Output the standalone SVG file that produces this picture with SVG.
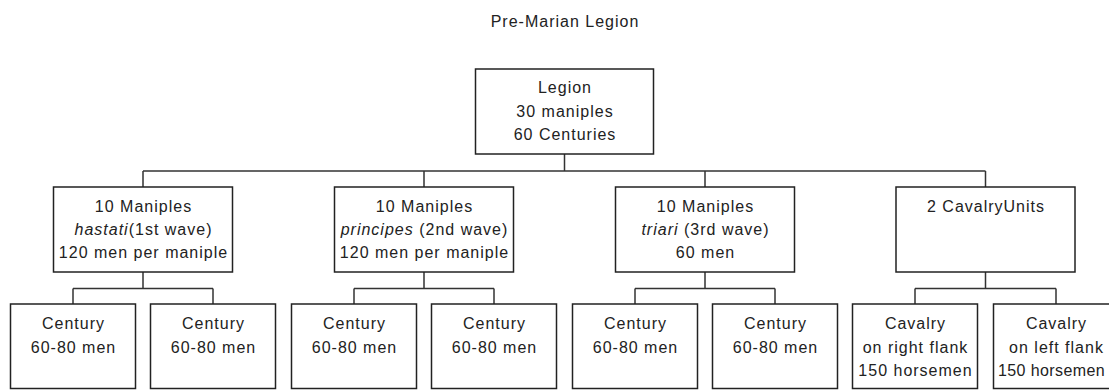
<svg xmlns="http://www.w3.org/2000/svg" width="1109" height="390" viewBox="0 0 1109 390">
<style>
  .box { fill: #ffffff; stroke: #222222; stroke-width: 1.5; }
  .conn { fill: none; stroke: #333333; stroke-width: 1.5; }
  text { font-family: "Liberation Sans", Arial, sans-serif; font-size: 16px; letter-spacing: 1px; fill: #222222; text-anchor: middle; }
  .it { font-style: italic; }
  .tight { letter-spacing: 0.4px; }
</style>
<rect width="1109" height="390" fill="#ffffff"/>
<text id="title" x="565" y="27">Pre-Marian Legion</text>

<g id="connectors">
  <path class="conn" d="M564.5 154 V171 M143 171 H985.5 M143 171 V187 M424 171 V187 M705 171 V187 M985.5 171 V187"/>
  <path class="conn" d="M143 272 V288.5 M73 288.5 H213 M73 288.5 V304 M213 288.5 V304"/>
  <path class="conn" d="M424 272 V288.5 M354 288.5 H494 M354 288.5 V304 M494 288.5 V304"/>
  <path class="conn" d="M705 272 V288.5 M635 288.5 H775 M635 288.5 V304 M775 288.5 V304"/>
  <path class="conn" d="M985.5 272 V288.5 M915 288.5 H1056 M915 288.5 V304 M1056 288.5 V304"/>
</g>

<g id="legion">
  <rect class="box" x="475.5" y="69" width="178" height="85"/>
  <text x="565" y="93">Legion</text>
  <text x="565" y="116.5">30 maniples</text>
  <text x="565" y="140">60 Centuries</text>
</g>

<g id="hastati">
  <rect class="box" x="53.5" y="187" width="179" height="85"/>
  <text x="143.5" y="212">10 Maniples</text>
  <text x="143.5" y="235"><tspan class="it">hastati</tspan>(1st wave)</text>
  <text x="143.5" y="258">120 men per maniple</text>
</g>

<g id="principes">
  <rect class="box" x="334.5" y="187" width="179" height="85"/>
  <text x="424.5" y="212">10 Maniples</text>
  <text x="424.5" y="235"><tspan class="it">principes</tspan> (2nd wave)</text>
  <text x="424.5" y="258">120 men per maniple</text>
</g>

<g id="triari">
  <rect class="box" x="615.5" y="187" width="179" height="85"/>
  <text x="705.5" y="212">10 Maniples</text>
  <text x="705.5" y="235"><tspan class="it">triari</tspan> (3rd wave)</text>
  <text x="705.5" y="258">60 men</text>
</g>

<g id="cavalry">
  <rect class="box" x="896" y="187" width="179" height="85"/>
  <text x="986" y="212">2 CavalryUnits</text>
</g>

<g id="century1">
  <rect class="box" x="10.5" y="304" width="125" height="84.5"/>
  <text x="73.5" y="329">Century</text>
  <text x="73.5" y="353">60-80 men</text>
</g>
<g id="century2">
  <rect class="box" x="150.5" y="304" width="125" height="84.5"/>
  <text x="213.5" y="329">Century</text>
  <text x="213.5" y="353">60-80 men</text>
</g>
<g id="century3">
  <rect class="box" x="291.5" y="304" width="125" height="84.5"/>
  <text x="354.5" y="329">Century</text>
  <text x="354.5" y="353">60-80 men</text>
</g>
<g id="century4">
  <rect class="box" x="431.5" y="304" width="125" height="84.5"/>
  <text x="494.5" y="329">Century</text>
  <text x="494.5" y="353">60-80 men</text>
</g>
<g id="century5">
  <rect class="box" x="572.5" y="304" width="125" height="84.5"/>
  <text x="635.5" y="329">Century</text>
  <text x="635.5" y="353">60-80 men</text>
</g>
<g id="century6">
  <rect class="box" x="712.5" y="304" width="125" height="84.5"/>
  <text x="775.5" y="329">Century</text>
  <text x="775.5" y="353">60-80 men</text>
</g>
<g id="cavalry-right">
  <rect class="box" x="852.5" y="304" width="125" height="84.5"/>
  <text x="915.5" y="329">Cavalry</text>
  <text x="915.5" y="353">on right flank</text>
  <text x="915.5" y="376">150 horsemen</text>
</g>
<g id="cavalry-left">
  <rect class="box" x="993.5" y="304" width="125" height="84.5"/>
  <text x="1056.5" y="329">Cavalry</text>
  <text x="1056.5" y="353">on left flank</text>
  <text class="tight" x="1051.5" y="376">150 horsemen</text>
</g>
</svg>
